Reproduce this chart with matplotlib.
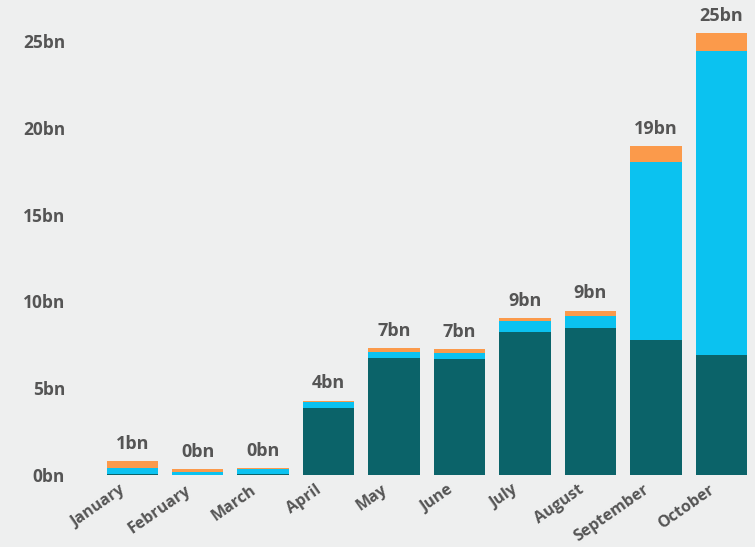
import numpy as np
import matplotlib.pyplot as plt

plt.rcParams['font.family'] = ['Open Sans', 'DejaVu Sans']

# monthly values, in billions
months = ['January', 'February', 'March', 'April', 'May', 'June',
          'July', 'August', 'September', 'October']
teal_vals = [0.05, 0.02, 0.03, 3.84, 6.75, 6.70, 8.22, 8.47, 7.78, 6.91]
blue_vals = [0.35, 0.13, 0.30, 0.36, 0.35, 0.35, 0.65, 0.71, 10.27, 17.49]
orange_vals = [0.40, 0.20, 0.05, 0.08, 0.20, 0.20, 0.16, 0.29, 0.90, 1.04]
y_ticks = [0, 5, 10, 15, 20, 25]

bg = '#eeefef'
txt = '#555555'

teal = np.array(teal_vals)
blue = np.array(blue_vals)
orange = np.array(orange_vals)
total = teal + blue + orange
x = np.arange(len(months))

fig = plt.figure(figsize=(7.55, 5.47), dpi=100, facecolor=bg)
W, H = 755, 547
left_px, right_px = 72, 752
top_px, bottom_px = 5, 475
ax = fig.add_axes([left_px / W, 1 - bottom_px / H,
                   (right_px - left_px) / W, (bottom_px - top_px) / H])
ax.set_facecolor(bg)

w = 0.786
ax.bar(x, teal, w, color='#0b6369')
ax.bar(x, blue, w, bottom=teal, color='#0bc2f0')
ax.bar(x, orange, w, bottom=teal + blue, color='#fb9a4b')

for xi, t in zip(x, total):
    ax.annotate(f'{round(t)}bn', (xi, t), xytext=(0, 6), textcoords='offset points',
                ha='center', va='bottom', fontsize=13, fontweight='bold', color=txt)

# pixel mapping: bar centres at 132.3 + 65.45*i
ax.set_xlim((left_px - 132.3) / 65.45, (right_px - 132.3) / 65.45)
ax.set_ylim(0, (bottom_px - top_px) / 17.36)

ax.set_yticks(y_ticks)
ax.set_yticklabels([f'{v}bn' for v in y_ticks])
# rotated labels end a little left of the bar centre
ax.set_xticks(x - 0.2)
ax.set_xticklabels(months, rotation=35, ha='right', rotation_mode='anchor')
for lab in ax.get_yticklabels():
    lab.set_fontweight('bold')
    lab.set_color(txt)
    lab.set_fontsize(12.5)
for lab in ax.get_xticklabels():
    lab.set_fontweight('bold')
    lab.set_color(txt)
    lab.set_fontsize(11.5)
ax.tick_params(axis='both', length=0)
ax.tick_params(axis='y', pad=5)
ax.tick_params(axis='x', pad=5)
for s in ax.spines.values():
    s.set_visible(False)

fig.savefig('out.png', dpi=100, facecolor=bg)
